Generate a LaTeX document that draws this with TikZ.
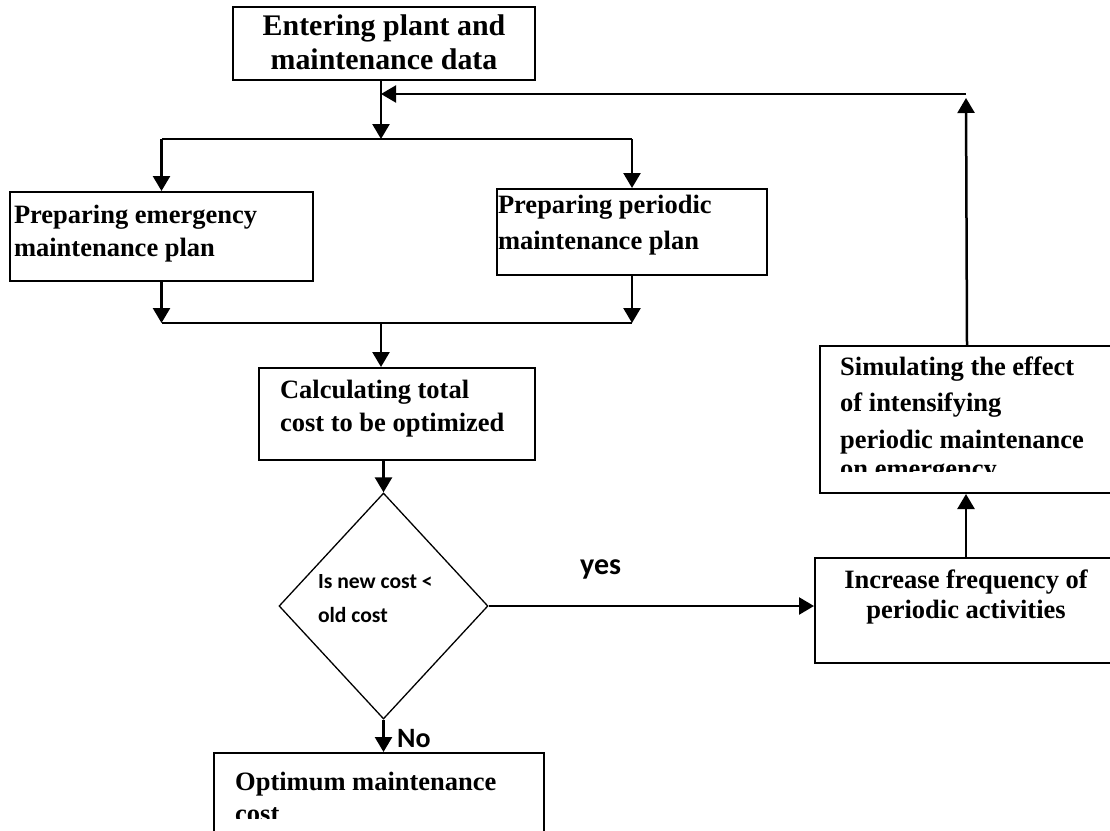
\documentclass[tikz,border=0pt]{standalone}
\usepackage{fontspec}
\setmainfont{Liberation Serif}
\newfontfamily\carlfont{Carlito}
\usetikzlibrary{arrows.meta,shapes.geometric}
\newcommand\tbf[1]{\fontsize{26.5pt}{#1}\selectfont\bfseries\raggedright}
\begin{document}
\begin{tikzpicture}[x=1pt,y=-1pt,
  box/.style={draw, line width=2pt, inner sep=0pt, anchor=north west},
  arr/.style={line width=2.5pt, -{Triangle[width=17pt,length=15pt]}},
  ln/.style={line width=1.6pt},
  lbl/.style={anchor=base west, inner sep=0pt, font=\carlfont\bfseries\fontsize{28pt}{30pt}\selectfont}]
\useasboundingbox (0,0) rectangle (1110,830);
\fill[white] (0,0) rectangle (1110,830);
\clip (0,0) rectangle (1110,830);

% boxes
\node[box] (top) at (232,6) {\parbox[c][73pt][t]{302pt}{\fontsize{29.9pt}{34pt}\selectfont\bfseries\centering\vspace*{4.5pt}\strut Entering plant and\\maintenance data}};
\node[box] (emg) at (9,191) {\parbox[c][89pt][t]{303pt}{\tbf{33pt}\leftskip=4pt\vspace*{7.9pt}\strut Preparing emergency\\maintenance plan}};
\node[box] (per) at (496,188) {\parbox[c][86pt][t]{270pt}{\tbf{36pt}\leftskip=1pt\vspace*{-0.5pt}\strut Preparing periodic\\maintenance plan}};
\node[box] (calc) at (258,367) {\parbox[c][92pt][t]{276pt}{\tbf{33pt}\leftskip=21pt\vspace*{6.9pt}\strut Calculating total\\cost to be optimized}};
\node[box] (inc) at (814,557) {\parbox[c][105pt][t]{302pt}{\fontsize{26.5pt}{30pt}\selectfont\bfseries\centering\vspace*{9pt}\strut Increase frequency of\\periodic activities}};
\node[box, minimum width=294pt, minimum height=147pt] (sim) at (819,345) {};
\begin{scope}
  \clip (819,345) rectangle (1113,471);
  \node[anchor=north west, inner sep=0pt] (simtext) at (819,345) {\parbox[c][150pt][t]{294pt}{\tbf{36.5pt}\leftskip=21pt\vspace*{4.45pt}\strut Simulating the effect\\of intensifying\\periodic maintenance\\[-7pt]on emergency}};
\end{scope}
\node[box, minimum width=330pt, minimum height=95pt] (opt) at (213,752) {};
\begin{scope}
  \clip (213,752) rectangle (543,818);
  \node[anchor=north west, inner sep=0pt] (opttext) at (213,752) {\parbox[c][90pt][t]{330pt}{\tbf{32.5pt}\leftskip=22pt\vspace*{15.5pt}\strut Optimum maintenance\\cost}};
\end{scope}

% decision
\node[draw, diamond, line width=1.3pt, inner sep=0pt, minimum width=209pt, minimum height=226pt] (dec) at (383.5,606)
  {\parbox[c][60pt][t]{131pt}{\carlfont\bfseries\fontsize{21.6pt}{34pt}\selectfont\raggedright\vspace*{-11.5pt}\strut Is new cost <\\old cost}};

% labels
\node[lbl, font=\carlfont\bfseries\fontsize{30pt}{32pt}\selectfont] (yes) at (580,574) {yes};
\node[lbl] (no) at (397,747) {No};

% junction coordinates
\coordinate (br) at (381,139);
\coordinate (mg) at (381,323);
\coordinate (fbr) at (966,94);
\coordinate (fbup) at (966,98);

% connectors
\draw[arr] (br |- top.south) -- (br);
\draw[ln] (emg.north |- br) -- (per.north |- br);
\draw[arr] (emg.north |- br) -- (emg.north);
\draw[arr] (per.north |- br) -- (per.north);
\draw[arr] (emg.south) -- (emg.south |- mg);
\draw[arr] (per.south) -- (per.south |- mg);
\draw[ln] (emg.south |- mg) -- (per.south |- mg);
\draw[arr] (mg) -- (mg |- calc.north);
\draw[arr] (dec.north |- calc.south) -- (dec.north);
\draw[arr] (dec.east) -- (dec.east -| inc.west);
\draw[arr] (dec.south) -- (dec.south |- opt.north);
\draw[arr] (inc.north) -- (inc.north |- sim.south);
\draw[arr] (sim.north) -- (fbup);
\draw[arr, line width=2pt] (fbr) -- (fbr -| br);
\end{tikzpicture}
\end{document}
